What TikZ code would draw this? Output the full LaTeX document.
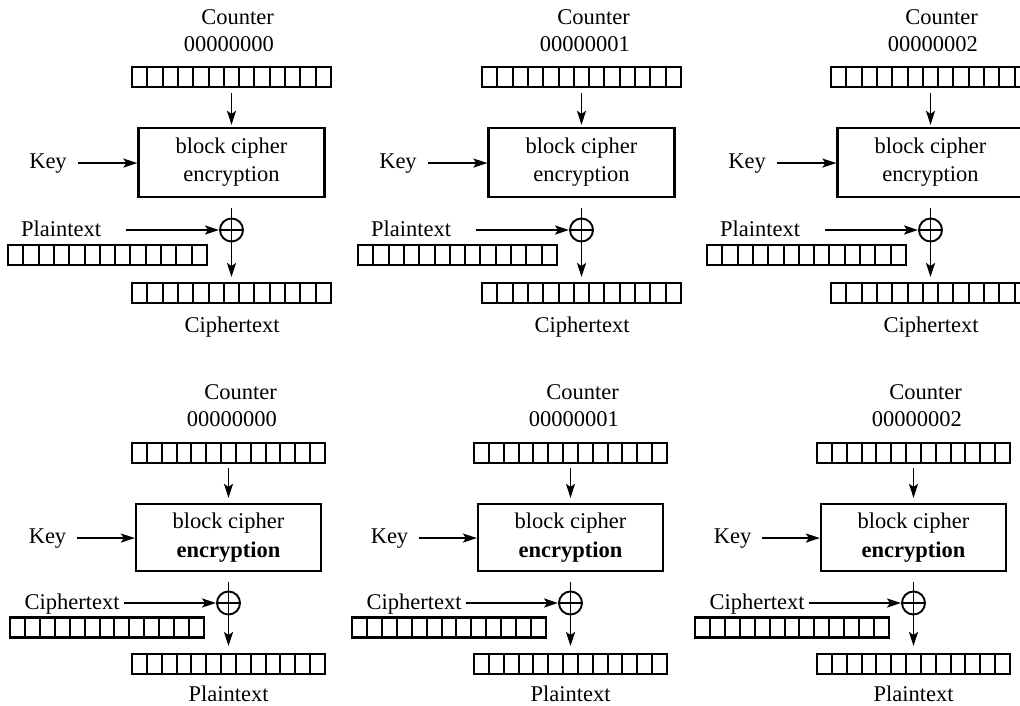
\documentclass[tikz,border=0pt]{standalone}
\usepackage{fontspec}
\setmainfont{Liberation Serif}
\usetikzlibrary{calc,arrows.meta}
\tikzset{
  lbl/.style={inner sep=0pt, font=\fontsize{22.5}{27}\selectfont},
  reg/.style={draw, line width=2.3pt, minimum height=20pt, inner sep=0pt, outer sep=0pt},
  cbox/.style={draw, line width=2.2pt, inner sep=0pt, align=center},
  ln/.style={line width=1.9pt},
  arr/.style={line width=1.9pt, -{Stealth[length=14pt,width=9pt,inset=3pt]}},
  xorc/.style={circle, draw, line width=1.9pt, minimum size=23pt, inner sep=0pt},
}
\newcommand{\mycells}[1]{%
  \foreach \k in {1,...,12}{%
    \draw[line width=2pt] ($(#1.south west)!\k/13!(#1.south east)$) -- ($(#1.north west)!\k/13!(#1.north east)$);}}
\newcommand{\encpanel}[4]{% id, dx, counter value, counter right edge
\begin{scope}[xshift=#2pt]
  \node[lbl, align=right, anchor=east] (ctr#1) at (#4,31) {Counter\\#3};
  \node[reg, minimum width=199pt] (cr#1) at (231.5,77) {};
  \mycells{cr#1}
  \node[cbox, minimum width=186pt, minimum height=69pt, font=\fontsize{22.5}{28}\selectfont] (bx#1) at (231.5,162.5) {block cipher\\encryption};
  \node[lbl, anchor=base] (key#1) at (48,168) {Key};
  \node[xorc] (x#1) at (231.5,230) {};
  \node[lbl, anchor=base] (in#1) at (61,236) {Plaintext};
  \node[reg, minimum width=199pt] (ir#1) at (107.5,255) {};
  \mycells{ir#1}
  \node[reg, minimum width=199pt] (or#1) at (231.5,293) {};
  \mycells{or#1}
  \node[lbl, anchor=base] (out#1) at (232,332) {Ciphertext};
  \draw[arr, shorten <=6pt, shorten >=2pt] (cr#1) -- (bx#1);
  \draw[arr, shorten <=11pt] (key#1.east) -- (key#1.east -| bx#1.west);
  \draw[ln] ([yshift=-10pt]bx#1.south) -- (x#1.north);
  \draw[ln] (x#1.north) -- (x#1.south) (x#1.west) -- (x#1.east);
  \draw[arr, shorten <=25pt] (x#1.west -| in#1.east) -- (x#1.west);
  \draw[arr, shorten >=6pt] (x#1.south) -- (or#1.north);
\end{scope}}
\newcommand{\decpanel}[4]{% id, dx, counter value, counter right edge
\begin{scope}[xshift=#2pt]
  \node[lbl, align=right, anchor=east] (dctr#1) at (#4,406) {Counter\\#3};
  \node[reg, minimum width=193pt] (dcr#1) at (228.5,453) {};
  \mycells{dcr#1}
  \node[cbox, minimum width=185pt, minimum height=67pt, font=\fontsize{22.5}{29}\selectfont] (dbx#1) at (228.5,537.5) {block cipher\\\textbf{encryption}};
  \node[lbl, anchor=base] (dkey#1) at (47.5,543) {Key};
  \node[xorc] (dx#1) at (228.5,603) {};
  \node[lbl, anchor=base] (din#1) at (72,609) {Ciphertext};
  \node[reg, minimum width=194pt] (dir#1) at (107,627.5) {};
  \mycells{dir#1}
  \node[reg, minimum width=193pt] (dor#1) at (228.5,664) {};
  \mycells{dor#1}
  \node[lbl, anchor=base] (dout#1) at (228.5,701) {Plaintext};
  \draw[arr, shorten <=5pt, shorten >=5pt] (dcr#1) -- (dbx#1);
  \draw[arr, shorten <=11pt] (dkey#1.east) -- (dkey#1.east -| dbx#1.west);
  \draw[ln] ([yshift=-10pt]dbx#1.south) -- (dx#1.north);
  \draw[ln] (dx#1.north) -- (dx#1.south) (dx#1.west) -- (dx#1.east);
  \draw[arr, shorten <=4pt] (dx#1.west -| din#1.east) -- (dx#1.west);
  \draw[arr, shorten >=8pt] (dx#1.south) -- (dor#1.north);
\end{scope}}
\begin{document}
\begin{tikzpicture}[x=1pt, y=-1pt]
  \useasboundingbox (0,0) rectangle (1020,706);
  \fill[white] (0,0) rectangle (1020,706);
  \clip (0,0) rectangle (1020,706);
  \encpanel{a}{0}{00000000}{274}
  \encpanel{b}{350}{00000001}{280}
  \encpanel{c}{699}{00000002}{279}
  \decpanel{a}{0}{00000000}{277}
  \decpanel{b}{342}{00000001}{277}
  \decpanel{c}{685}{00000002}{277}
\end{tikzpicture}
\end{document}
